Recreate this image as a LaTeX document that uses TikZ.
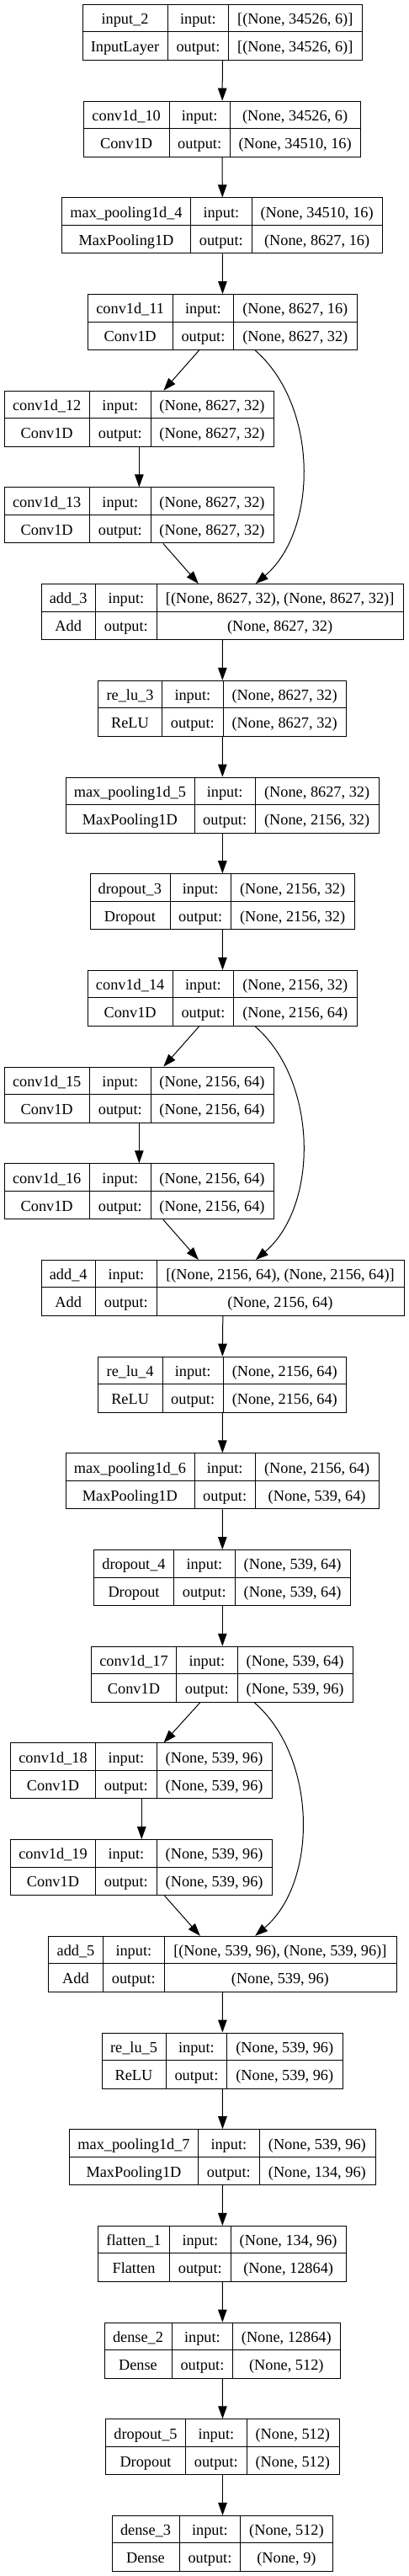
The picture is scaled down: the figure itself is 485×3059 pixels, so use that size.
\documentclass[tikz,border=0pt]{standalone}
\usepackage{fontspec}
\setmainfont{Liberation Serif}
\usepackage{tikz}
\usetikzlibrary{arrows.meta}

% one keras layer: id, level, x0, x1, x3, name, class, input, output
\newcommand{\layerbox}[9]{%
  \pgfmathsetmacro{\ytop}{5+#2*114.69}%
  \pgfmathsetmacro{\xmid}{#4+72.3}%
  \node[layerframe, minimum width={#5-#3}, anchor=north west] (#1) at (#3,\ytop) {};
  \draw (#4,\ytop) -- (#4,{\ytop+66});
  \draw (\xmid,\ytop) -- (\xmid,{\ytop+66});
  \draw (#3,{\ytop+33}) -- (#5,{\ytop+33});
  \node[celltext] (#1-name) at ({(#3+#4)/2},{\ytop+23.8}) {#6};
  \node[celltext] (#1-class) at ({(#3+#4)/2},{\ytop+56.8}) {#7};
  \node[celltext] (#1-inlbl) at ({(#4+\xmid)/2},{\ytop+23.8}) {input:};
  \node[celltext] (#1-outlbl) at ({(#4+\xmid)/2},{\ytop+56.8}) {output:};
  \node[celltext] (#1-in) at ({(\xmid+#5)/2},{\ytop+23.8}) {#8};
  \node[celltext] (#1-out) at ({(\xmid+#5)/2},{\ytop+56.8}) {#9};
}

\begin{document}
\begin{tikzpicture}[x=1pt, y=-1pt, line width=1pt,
  font=\fontsize{18.3}{22}\selectfont,
  layerframe/.style={draw, minimum height=66pt, inner sep=0pt},
  celltext/.style={anchor=base, inner sep=0pt},
  arr/.style={-{Triangle[length=15pt,width=10.5pt]}}]
  \useasboundingbox (0,0) rectangle (485,3059);

  \layerbox{in2}{0}{97.7}{199.3}{430}{input\_2}{InputLayer}{[(None, 34526, 6)]}{[(None, 34526, 6)]}
  \layerbox{c10}{1}{99.3}{201}{428}{conv1d\_10}{Conv1D}{(None, 34526, 6)}{(None, 34510, 16)}
  \layerbox{mp4}{2}{73.3}{226.7}{454.3}{max\_pooling1d\_4}{MaxPooling1D}{(None, 34510, 16)}{(None, 8627, 16)}
  \layerbox{c11}{3}{104}{205.3}{424}{conv1d\_11}{Conv1D}{(None, 8627, 16)}{(None, 8627, 32)}
  \layerbox{c12}{4}{4.7}{106.7}{325}{conv1d\_12}{Conv1D}{(None, 8627, 32)}{(None, 8627, 32)}
  \layerbox{c13}{5}{4.7}{106.7}{325}{conv1d\_13}{Conv1D}{(None, 8627, 32)}{(None, 8627, 32)}
  \layerbox{add3}{6}{48.7}{113.7}{479.3}{add\_3}{Add}{[(None, 8627, 32), (None, 8627, 32)]}{(None, 8627, 32)}
  \layerbox{relu3}{7}{116.3}{192.7}{411.3}{re\_lu\_3}{ReLU}{(None, 8627, 32)}{(None, 8627, 32)}
  \layerbox{mp5}{8}{77.7}{231}{450}{max\_pooling1d\_5}{MaxPooling1D}{(None, 8627, 32)}{(None, 2156, 32)}
  \layerbox{do3}{9}{106.7}{202}{421}{dropout\_3}{Dropout}{(None, 2156, 32)}{(None, 2156, 32)}
  \layerbox{c14}{10}{104}{205.3}{424}{conv1d\_14}{Conv1D}{(None, 2156, 32)}{(None, 2156, 64)}
  \layerbox{c15}{11}{4.7}{106.7}{325}{conv1d\_15}{Conv1D}{(None, 2156, 64)}{(None, 2156, 64)}
  \layerbox{c16}{12}{4.7}{106.7}{325}{conv1d\_16}{Conv1D}{(None, 2156, 64)}{(None, 2156, 64)}
  \layerbox{add4}{13}{48.7}{113.7}{480}{add\_4}{Add}{[(None, 2156, 64), (None, 2156, 64)]}{(None, 2156, 64)}
  \layerbox{relu4}{14}{116.3}{193}{411.3}{re\_lu\_4}{ReLU}{(None, 2156, 64)}{(None, 2156, 64)}
  \layerbox{mp6}{15}{77.7}{231}{450}{max\_pooling1d\_6}{MaxPooling1D}{(None, 2156, 64)}{(None, 539, 64)}
  \layerbox{do4}{16}{111.3}{206.7}{416.3}{dropout\_4}{Dropout}{(None, 539, 64)}{(None, 539, 64)}
  \layerbox{c17}{17}{108.3}{209.7}{419.3}{conv1d\_17}{Conv1D}{(None, 539, 64)}{(None, 539, 96)}
  \layerbox{c18}{18}{12.3}{113.7}{323.3}{conv1d\_18}{Conv1D}{(None, 539, 96)}{(None, 539, 96)}
  \layerbox{c19}{19}{12.3}{113.7}{323.3}{conv1d\_19}{Conv1D}{(None, 539, 96)}{(None, 539, 96)}
  \layerbox{add5}{20}{57.3}{122.7}{470.7}{add\_5}{Add}{[(None, 539, 96), (None, 539, 96)]}{(None, 539, 96)}
  \layerbox{relu5}{21}{120.7}{197.3}{407}{re\_lu\_5}{ReLU}{(None, 539, 96)}{(None, 539, 96)}
  \layerbox{mp7}{22}{82.3}{235.7}{445.7}{max\_pooling1d\_7}{MaxPooling1D}{(None, 539, 96)}{(None, 134, 96)}
  \layerbox{fl1}{23}{116.3}{201.7}{411.3}{flatten\_1}{Flatten}{(None, 134, 96)}{(None, 12864)}
  \layerbox{d2}{24}{123.7}{204.3}{404}{dense\_2}{Dense}{(None, 12864)}{(None, 512)}
  \layerbox{do5}{25}{125.3}{220.7}{402.7}{dropout\_5}{Dropout}{(None, 512)}{(None, 512)}
  \layerbox{d3}{26}{132.7}{213.3}{395.3}{dense\_3}{Dense}{(None, 512)}{(None, 9)}

  % straight edges
  \foreach \a/\b in {in2/c10, c10/mp4, mp4/c11, c12/c13, add3/relu3, relu3/mp5,
      mp5/do3, do3/c14, c15/c16, add4/relu4, relu4/mp6, mp6/do4, do4/c17,
      c18/c19, add5/relu5, relu5/mp7, mp7/fl1, fl1/d2, d2/do5, do5/d3}
    \draw[arr] (\a.south) -- (\b.north);

  % residual blocks
  \draw[arr] ([xshift=-28pt]c11.south) -- ([xshift=29pt]c12.north);
  \draw[arr] ([xshift=28.5pt]c13.south) -- ([xshift=-28.7pt]add3.north);
  \draw[arr] ([xshift=38.7pt]c11.south) .. controls +(75,65) and +(75,-64) .. ([xshift=39.3pt]add3.north);

  \draw[arr] ([xshift=-28pt]c14.south) -- ([xshift=29pt]c15.north);
  \draw[arr] ([xshift=28.5pt]c16.south) -- ([xshift=-29pt]add4.north);
  \draw[arr] ([xshift=38.7pt]c14.south) .. controls +(75,65) and +(75,-64) .. ([xshift=39pt]add4.north);

  \draw[arr] ([xshift=-26.5pt]c17.south) -- ([xshift=26.2pt]c18.north);
  \draw[arr] ([xshift=27.2pt]c19.south) -- ([xshift=-26.7pt]add5.north);
  \draw[arr] ([xshift=37.9pt]c17.south) .. controls +(75,65) and +(75,-64) .. ([xshift=38.7pt]add5.north);
\end{tikzpicture}
\end{document}
